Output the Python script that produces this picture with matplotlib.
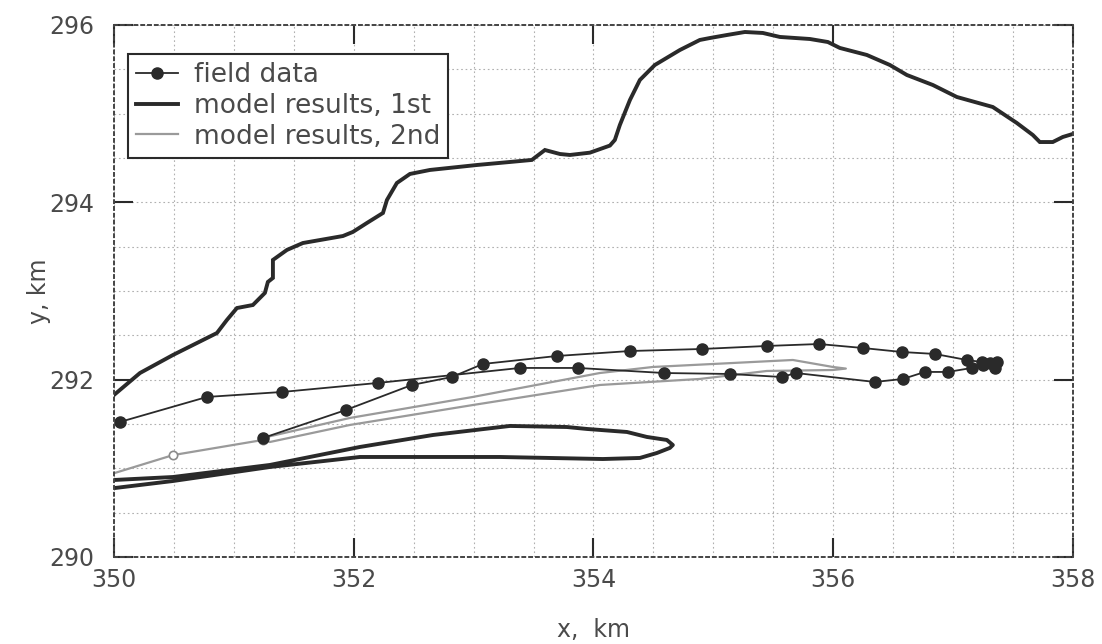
import matplotlib.pyplot as plt
from matplotlib.ticker import MultipleLocator

# coastline (thick, no legend entry)
coast_x = [350.0, 350.217, 350.492, 350.859, 350.942, 351.026, 351.159, 351.259, 351.284,
           351.326, 351.326, 351.443, 351.576, 351.910, 351.993, 352.110, 352.244, 352.277,
           352.360, 352.469, 352.636, 353.028, 353.303, 353.486, 353.595, 353.720, 353.803,
           353.970, 354.137, 354.178, 354.220, 354.304, 354.387, 354.512, 354.721, 354.887,
           354.971, 355.113, 355.263, 355.413, 355.555, 355.805, 355.955, 356.055, 356.280,
           356.472, 356.614, 356.831, 357.031, 357.331, 357.531, 357.665, 357.723, 357.831,
           357.915, 357.998]
coast_y = [291.827, 292.075, 292.278, 292.526, 292.673, 292.808, 292.842, 292.978, 293.102,
           293.147, 293.350, 293.463, 293.541, 293.620, 293.666, 293.767, 293.880, 294.026,
           294.218, 294.320, 294.365, 294.421, 294.455, 294.478, 294.590, 294.545, 294.534,
           294.560, 294.640, 294.703, 294.872, 295.154, 295.380, 295.549, 295.718, 295.831,
           295.853, 295.887, 295.921, 295.910, 295.865, 295.842, 295.808, 295.741, 295.662,
           295.549, 295.436, 295.323, 295.188, 295.075, 294.895, 294.759, 294.680, 294.680,
           294.737, 294.771]

# field data, outbound branch (upper at the east end)
field_out_x = [351.243, 351.935, 352.485, 352.819, 353.078, 353.695, 354.304, 354.904,
               355.446, 355.880, 356.247, 356.572, 356.847, 357.114, 357.239, 357.306, 357.364]
field_out_y = [291.342, 291.658, 291.940, 292.030, 292.177, 292.267, 292.323, 292.346,
               292.380, 292.402, 292.357, 292.312, 292.290, 292.222, 292.199, 292.188, 292.199]
# field data, return branch
field_back_x = [357.348, 357.248, 357.156, 356.956, 356.764, 356.581, 356.347, 355.688,
                355.571, 355.138, 354.587, 353.870, 353.386, 352.202, 351.401, 350.776, 350.050]
field_back_y = [292.132, 292.166, 292.132, 292.087, 292.087, 292.008, 291.974, 292.075,
                292.030, 292.064, 292.075, 292.132, 292.132, 291.963, 291.861, 291.805, 291.523]

# model results, 1st run (closed contour)
model1_x = [350.008, 350.492, 351.301, 352.052, 353.219, 354.078, 354.387, 354.529, 354.637,
            354.662, 354.612, 354.445, 354.279, 353.945, 353.778, 353.303, 352.661, 352.052,
            351.301, 350.492, 350.008]
model1_y = [290.778, 290.857, 291.015, 291.128, 291.128, 291.105, 291.117, 291.173, 291.230,
            291.263, 291.320, 291.354, 291.410, 291.444, 291.466, 291.478, 291.376, 291.241,
            291.038, 290.902, 290.869]

# model results, 2nd run
model2_x = [350.008, 350.492, 351.243, 351.301, 351.968, 352.994, 354.053, 354.887, 355.446,
            355.997, 356.105, 355.997, 355.663, 355.163, 354.495, 354.053, 352.994, 351.968,
            351.276, 351.243]
model2_y = [290.948, 291.149, 291.320, 291.297, 291.489, 291.714, 291.940, 292.008, 292.098,
            292.109, 292.125, 292.143, 292.222, 292.188, 292.143, 292.075, 291.805, 291.568,
            291.354, 291.320]

xticks = [350, 352, 354, 356, 358]
yticks = [290, 292, 294, 296]

ink = '#2a2a2a'
txt = '#4a4a4a'

fig = plt.figure(figsize=(11.02, 6.44), dpi=100)
ax = fig.add_axes([0.1034, 0.1351, 0.8703, 0.8261])

ax.plot(coast_x, coast_y, color=ink, lw=2.8, solid_joinstyle='miter')
ax.plot(model2_x, model2_y, color='#9a9a9a', lw=1.6, label='model results, 2nd')
ax.plot(model2_x[1:3], model2_y[1:3], ls='none', marker='o', ms=6, mfc='white',
        mec='#8a8a8a', mew=1.2)
ax.plot(model1_x, model1_y, color=ink, lw=2.8, label='model results, 1st')
ax.plot(field_out_x, field_out_y, color=ink, lw=1.3, marker='o', ms=8,
        label='field data')
ax.plot(field_back_x, field_back_y, color=ink, lw=1.3, marker='o', ms=8)

ax.set_xlim(350, 358)
ax.set_ylim(290, 296)
ax.set_xticks(xticks)
ax.set_yticks(yticks)
ax.xaxis.set_minor_locator(MultipleLocator(0.5))
ax.yaxis.set_minor_locator(MultipleLocator(0.5))
ax.grid(which='both', color='#b0b0b0', linestyle=(0, (1.5, 2.5)), linewidth=0.8)
ax.tick_params(which='major', direction='in', length=14, width=1.5, color=ink,
               top=True, right=True, labelsize=17, labelcolor=txt)
ax.tick_params(axis='y', pad=14)
ax.tick_params(axis='x', pad=8)
ax.tick_params(which='minor', length=0)
for s in ax.spines.values():
    s.set_linestyle((0, (1.5, 2)))
    s.set_color('#444444')
    s.set_linewidth(1.4)

ax.set_xlabel('x,  km', fontsize=17, color=txt, labelpad=19)
ax.set_ylabel('y, km', fontsize=17, color=txt, labelpad=-1)

handles, labels = ax.get_legend_handles_labels()
order = [2, 1, 0]
leg = ax.legend([handles[i] for i in order], [labels[i] for i in order],
                loc='upper left', bbox_to_anchor=(0.0146, 0.945), borderaxespad=0,
                fontsize=19, fancybox=False, edgecolor=ink, framealpha=1,
                handlelength=1.6, handletextpad=0.6, labelspacing=0.18, borderpad=0.3)
leg.get_frame().set_linewidth(1.5)
for t in leg.get_texts():
    t.set_color(txt)

fig.savefig('out.png', dpi=100)
